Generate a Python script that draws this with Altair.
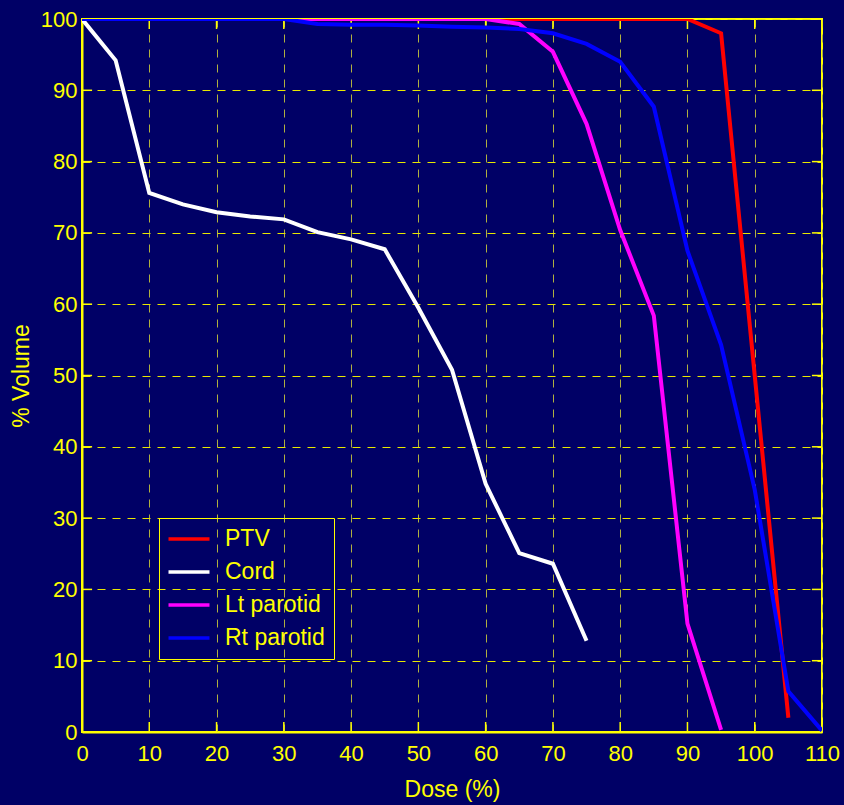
import altair as alt
import pandas as pd

FONT = "Liberation Sans Narrow, Liberation Sans, Arial, sans-serif"
YEL = "#ffff00"
BG = "#000066"

organs = ["PTV", "Cord", "Lt parotid", "Rt parotid"]
colors = ["#ff0000", "#ffffff", "#ff00ff", "#0000ff"]

ptv_dose = [0, 5, 10, 15, 20, 25, 30, 35, 40, 45, 50, 55, 60, 65, 70, 75, 80, 85, 90, 95, 100, 105]
ptv_vol = [100, 100, 100, 100, 100, 100, 100, 100, 100, 100, 100, 100, 100, 100, 100, 100, 100, 100, 100, 98.0, 50.0, 2.0]

cord_dose = [0, 5, 10, 15, 20, 25, 30, 35, 40, 45, 50, 55, 60, 65, 70, 75]
cord_vol = [100, 94.2, 75.6, 74.0, 72.9, 72.3, 71.9, 70.1, 69.1, 67.7, 59.5, 50.8, 34.8, 25.1, 23.6, 12.8]

lt_dose = [0, 5, 10, 15, 20, 25, 30, 35, 40, 45, 50, 55, 60, 65, 70, 75, 80, 85, 90, 95]
lt_vol = [100, 100, 100, 100, 100, 100, 100, 100, 100, 100, 100, 100, 100, 99.3, 95.4, 85.3, 70.4, 58.4, 15.2, 0.3]

rt_dose = [0, 5, 10, 15, 20, 25, 30, 35, 40, 45, 50, 55, 60, 65, 70, 75, 80, 85, 90, 95, 100, 105, 110]
rt_vol = [100, 100, 100, 100, 100, 100, 100, 99.3, 99.2, 99.2, 99.1, 98.9, 98.8, 98.6, 98.0, 96.5, 94.0, 87.7, 67.5, 54.3, 34.0, 5.7, 0.2]

x_ticks = [0, 10, 20, 30, 40, 50, 60, 70, 80, 90, 100, 110]
y_ticks = [0, 10, 20, 30, 40, 50, 60, 70, 80, 90, 100]

rows = []
for name, ds, vs in [("PTV", ptv_dose, ptv_vol), ("Cord", cord_dose, cord_vol),
                     ("Lt parotid", lt_dose, lt_vol), ("Rt parotid", rt_dose, rt_vol)]:
    for d, v in zip(ds, vs):
        rows.append({"organ": name, "dose": d, "vol": v})
df = pd.DataFrame(rows)

# inward (MATLAB-style) tick marks, built from the tick lists
TLY = 1.4   # tick length in volume units
TLX = 1.5   # tick length in dose units
trows = []
for t in x_ticks:
    trows.append({"dose": t, "dose2": t, "vol": 0, "vol2": TLY})
    trows.append({"dose": t, "dose2": t, "vol": 100, "vol2": 100 - TLY})
for t in y_ticks:
    trows.append({"dose": 0, "dose2": TLX, "vol": t, "vol2": t})
    trows.append({"dose": 110, "dose2": 110 - TLX, "vol": t, "vol2": t})
tdf = pd.DataFrame(trows)

xs = alt.Scale(domain=[0, 110], nice=False)
ys = alt.Scale(domain=[0, 100], nice=False)
xaxis = alt.Axis(values=x_ticks, title="Dose (%)", labelPadding=11, titlePadding=14,
                 grid=True, gridColor="#b0b040")
yaxis = alt.Axis(values=y_ticks, title="% Volume", labelPadding=5, titlePadding=7,
                 grid=True, gridColor="#e8e800")

lines = alt.Chart(df).mark_line(strokeWidth=4, clip=True).encode(
    x=alt.X("dose:Q", scale=xs, axis=xaxis),
    y=alt.Y("vol:Q", scale=ys, axis=yaxis),
    color=alt.Color("organ:N", sort=organs,
                    scale=alt.Scale(domain=organs, range=colors),
                    legend=alt.Legend(title=None, orient="none", legendX=77, legendY=499,
                                      direction="vertical", symbolType="M-2,0H2", symbolSize=420,
                                      symbolStrokeWidth=3.5, labelFont=FONT, labelFontSize=23,
                                      labelColor=YEL, strokeColor=YEL, padding=9, rowPadding=9,
                                      symbolOffset=9, labelOffset=24)),
)

ticks = alt.Chart(tdf).mark_rule(color=YEL, strokeWidth=1.5).encode(
    x=alt.X("dose:Q", scale=xs, axis=xaxis), x2="dose2:Q",
    y=alt.Y("vol:Q", scale=ys, axis=yaxis), y2="vol2:Q",
)

chart = alt.layer(ticks, lines).properties(
    width=740, height=713,
    autosize=alt.AutoSizeParams(type="none"),
    padding={"left": 82, "top": 19, "right": 22, "bottom": 73},
    background=BG,
).configure_view(
    stroke=YEL, strokeWidth=2, fill=BG
).configure_axis(
    domainColor=YEL, domainWidth=2, labelColor=YEL, titleColor=YEL,
    labelFont=FONT, titleFont=FONT, labelFontSize=22, titleFontSize=23,
    titleFontWeight="normal", gridDash=[8, 7], gridOpacity=1,
    gridWidth=1, ticks=False, labelFlush=False, labelOverlap=False,
)

chart.save("out.html", embed_options={"renderer": "svg", "actions": False})
